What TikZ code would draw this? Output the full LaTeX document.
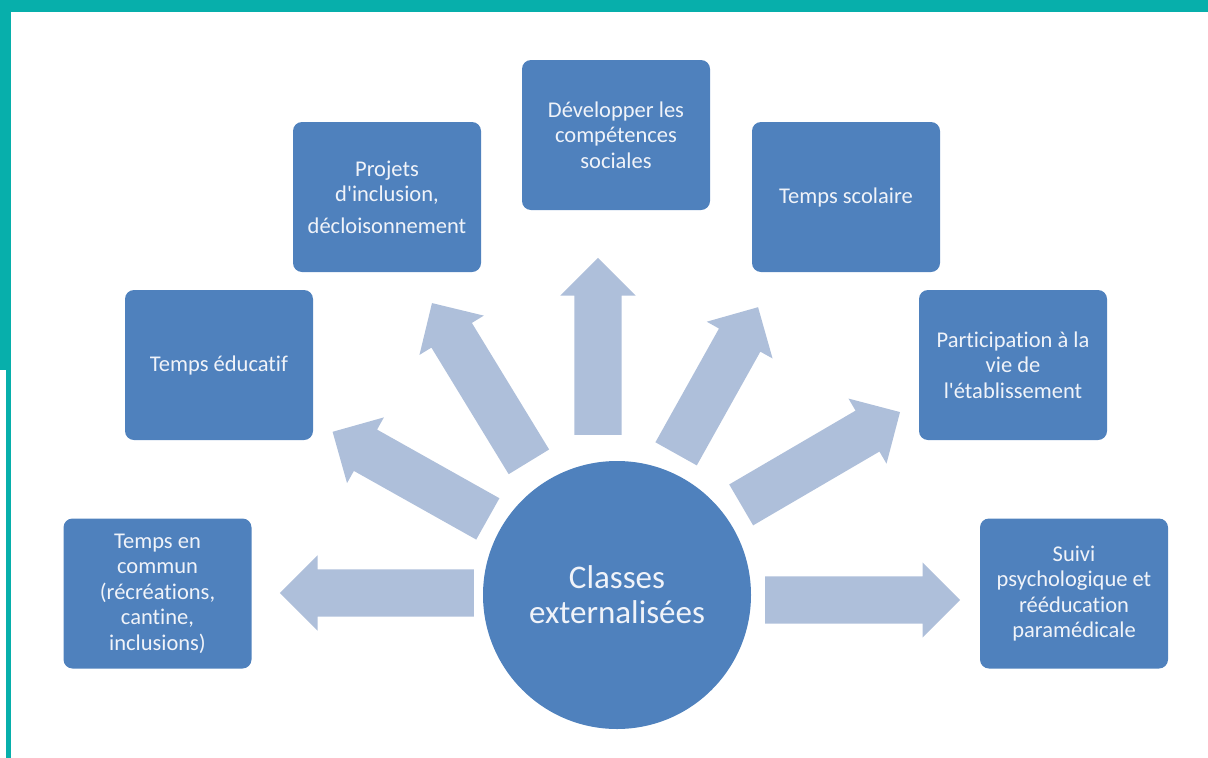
\documentclass[tikz,border=0pt]{standalone}
\usepackage{fontspec}
\setmainfont{Carlito}[Ligatures={TeX,NoCommon,NoContextual},Contextuals=NoAlternate]
\usepackage{tikz}
\usetikzlibrary{shapes.arrows}
\definecolor{boxblue}{HTML}{4F81BD}
\definecolor{arrowblue}{HTML}{AEBFDA}
\definecolor{frameteal}{HTML}{07AFAB}
\definecolor{softwhite}{HTML}{F0F3F9}
\tikzstyle{box}=[rectangle,rounded corners=9pt,fill=boxblue,text=softwhite,align=center,minimum width=188pt,minimum height=150pt,inner sep=0pt,font=\fontsize{22.5}{25.5}\selectfont]
\tikzstyle{hub}=[circle,fill=boxblue,text=softwhite,align=center,minimum size=268pt,inner sep=0pt,font=\fontsize{33}{35}\selectfont]
\tikzstyle{bigarrow}=[single arrow,fill=arrowblue,draw=none,inner xsep=0pt,inner ysep=23.5pt,single arrow head extend=14pt,anchor=tail]

\begin{document}
\begin{tikzpicture}[x=1pt,y=-1pt]

  \useasboundingbox (0,0) rectangle (1208,758);

  % frame
  \fill[frameteal] (0,0) rectangle (1208,12);
  \fill[frameteal] (0,0) rectangle (11,370);
  \fill[frameteal] (6,370) rectangle (11,758);

  % arrows round the hub
  \node[bigarrow,minimum height=194pt,rotate=180] (aleft) at (474,593) {};
  \node[bigarrow,minimum height=178pt,rotate=150.7] (aeduc) at (488,519) {};
  \node[bigarrow,minimum height=186pt,rotate=121.4] (aproj) at (529,462) {};
  \node[bigarrow,minimum height=177pt,rotate=90] (aup) at (598,435) {};
  \node[bigarrow,minimum height=168pt,rotate=60.8] (ascol) at (676,454) {};
  \node[bigarrow,minimum height=184pt,rotate=30.3] (apart) at (741,505) {};
  \node[bigarrow,minimum height=195pt,rotate=0] (aright) at (765,600) {};

  % hub
  \node[hub] (hub) at (617,595) {Classes\\externalisées};

  % boxes
  \node[box] (commun) at (157.5,593.5) {Temps en\\commun\\(récréations,\\cantine,\\inclusions)};
  \node[box] (educ) at (219,365) {Temps éducatif};
  \node[box] (proj) at (387,197) {Projets\\d\textquotesingle inclusion,\\[6pt]décloisonnement};
  \node[box] (devel) at (616,135) {Développer les\\compétences\\sociales};
  \node[box] (scol) at (846,197) {Temps scolaire};
  \node[box] (part) at (1013,365) {Participation à la\\vie de\\l\textquotesingle établissement};
  \node[box] (suivi) at (1074,593.5) {Suivi\\psychologique et\\rééducation\\paramédicale};

\end{tikzpicture}
\end{document}
